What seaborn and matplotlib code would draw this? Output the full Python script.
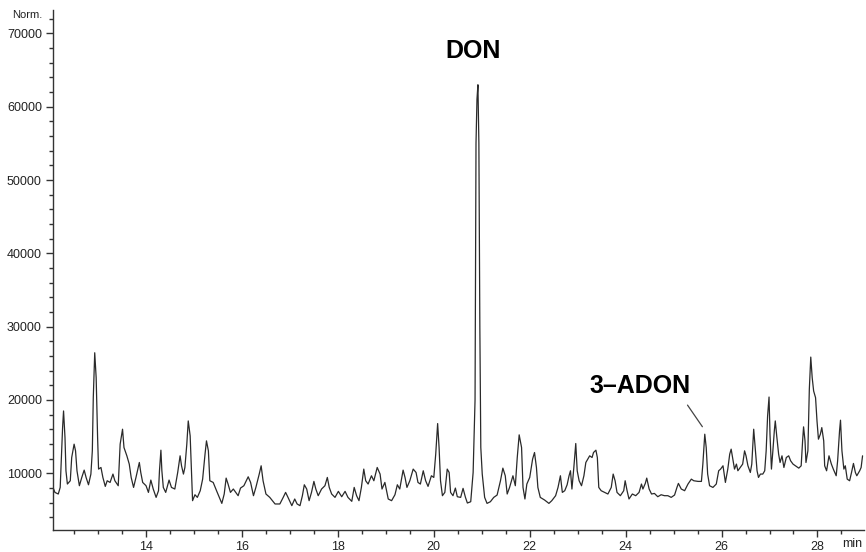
import numpy as np
import pandas as pd
import seaborn as sns
import matplotlib
matplotlib.use("Agg")
import matplotlib.pyplot as plt
from matplotlib.ticker import MultipleLocator, FormatStrFormatter

# ---- data (time in min, intensity in Norm.) ----
time_min = [
    12.06, 12.10, 12.17, 12.21, 12.23, 12.26, 12.28, 12.31, 12.33, 12.36,
    12.42, 12.45, 12.50, 12.53, 12.56, 12.61, 12.66, 12.71, 12.75, 12.80,
    12.85, 12.88, 12.90, 12.93, 12.96, 12.99, 13.01, 13.06, 13.10, 13.15,
    13.19, 13.25, 13.31, 13.35, 13.42, 13.46, 13.51, 13.54, 13.60, 13.65,
    13.69, 13.74, 13.79, 13.86, 13.89, 13.93, 14.00, 14.05, 14.10, 14.15,
    14.21, 14.26, 14.28, 14.31, 14.33, 14.36, 14.41, 14.48, 14.53, 14.60,
    14.66, 14.71, 14.74, 14.78, 14.81, 14.85, 14.88, 14.92, 14.95, 14.97,
    15.02, 15.07, 15.13, 15.18, 15.23, 15.26, 15.30, 15.33, 15.40, 15.47,
    15.58, 15.63, 15.67, 15.71, 15.76, 15.82, 15.87, 15.92, 15.97, 16.04,
    16.13, 16.18, 16.24, 16.29, 16.36, 16.40, 16.44, 16.50, 16.58, 16.69,
    16.79, 16.86, 16.91, 16.96, 17.04, 17.10, 17.15, 17.21, 17.26, 17.30,
    17.35, 17.40, 17.45, 17.50, 17.54, 17.59, 17.66, 17.73, 17.78, 17.82,
    17.87, 17.94, 18.01, 18.08, 18.15, 18.21, 18.29, 18.34, 18.39, 18.44,
    18.49, 18.54, 18.58, 18.63, 18.70, 18.75, 18.82, 18.88, 18.92, 18.98,
    19.05, 19.12, 19.19, 19.24, 19.29, 19.36, 19.40, 19.44, 19.50, 19.57,
    19.63, 19.67, 19.72, 19.78, 19.83, 19.88, 19.95, 20.00, 20.04, 20.08,
    20.11, 20.14, 20.18, 20.23, 20.28, 20.32, 20.35, 20.40, 20.45, 20.49,
    20.56, 20.61, 20.66, 20.70, 20.77, 20.82, 20.86, 20.88, 20.90, 20.92,
    20.94, 20.96, 20.98, 21.01, 21.06, 21.11, 21.18, 21.25, 21.32, 21.39,
    21.44, 21.49, 21.53, 21.58, 21.65, 21.70, 21.74, 21.78, 21.83, 21.86,
    21.90, 21.94, 22.00, 22.06, 22.10, 22.14, 22.17, 22.22, 22.31, 22.40,
    22.46, 22.54, 22.59, 22.64, 22.68, 22.73, 22.78, 22.82, 22.85, 22.88,
    22.92, 22.96, 22.99, 23.03, 23.08, 23.13, 23.17, 23.21, 23.25, 23.30,
    23.33, 23.38, 23.41, 23.44, 23.49, 23.56, 23.63, 23.70, 23.74, 23.78,
    23.82, 23.89, 23.96, 23.99, 24.03, 24.07, 24.14, 24.21, 24.28, 24.33,
    24.36, 24.41, 24.44, 24.49, 24.54, 24.60, 24.67, 24.74, 24.81, 24.88,
    24.95, 25.02, 25.07, 25.10, 25.16, 25.23, 25.30, 25.37, 25.42, 25.51,
    25.58, 25.61, 25.65, 25.68, 25.71, 25.75, 25.82, 25.89, 25.94, 25.98,
    26.03, 26.08, 26.13, 26.17, 26.20, 26.24, 26.27, 26.31, 26.34, 26.39,
    26.44, 26.48, 26.51, 26.55, 26.60, 26.63, 26.65, 26.67, 26.70, 26.74,
    26.77, 26.81, 26.86, 26.90, 26.93, 26.96, 26.99, 27.01, 27.04, 27.07,
    27.10, 27.12, 27.15, 27.19, 27.22, 27.26, 27.30, 27.35, 27.40, 27.44,
    27.49, 27.54, 27.61, 27.66, 27.69, 27.71, 27.74, 27.76, 27.80, 27.83,
    27.86, 27.89, 27.92, 27.96, 27.99, 28.02, 28.06, 28.09, 28.13, 28.15,
    28.19, 28.24, 28.29, 28.33, 28.39, 28.42, 28.46, 28.48, 28.51, 28.55,
    28.58, 28.62, 28.67, 28.71, 28.75, 28.79, 28.82, 28.88, 28.91, 28.94,
]
intensity = [
    8070, 7390, 7170, 8070, 11300, 16230, 18500, 14870, 10340, 8530,
    8980, 12150, 13970, 13060, 10340, 8300, 9430, 10430, 9430, 8430,
    9890, 13060, 20310, 26440, 23030, 14870, 10570, 10790, 9430, 8210,
    8980, 8750, 9890, 8980, 8300, 13970, 16010, 13510, 12380, 11250,
    9430, 8070, 9430, 11470, 10110, 8750, 8300, 7390, 9070, 7850,
    6710, 7620, 10340, 13150, 10340, 8070, 7390, 9070, 8070, 7850,
    10110, 12380, 11020, 9890, 10790, 13970, 17140, 15100, 9890, 6260,
    7070, 6710, 7620, 9200, 12610, 14420, 13060, 8980, 8750, 7620,
    5890, 7170, 9340, 8530, 7390, 7850, 7390, 6940, 7980, 8300,
    9520, 8750, 6940, 8070, 9890, 11020, 8980, 7170, 6710, 5810,
    5810, 6710, 7390, 6710, 5580, 6490, 5810, 5580, 6940, 8430,
    7850, 6260, 7390, 8890, 7850, 6940, 7850, 8300, 9430, 8070,
    7170, 6710, 7530, 6800, 7530, 6710, 6170, 8070, 6940, 6260,
    8070, 10570, 8980, 8530, 9660, 8980, 10790, 9890, 7850, 8750,
    6490, 6260, 7070, 8430, 7850, 10430, 9430, 8070, 8980, 10570,
    10110, 8750, 8530, 10340, 8980, 8210, 9660, 9430, 12610, 16780,
    13510, 8980, 6940, 7390, 10570, 10110, 7390, 6940, 7980, 6800,
    6710, 7940, 6710, 5940, 6120, 10110, 20000, 55000, 61000, 63000,
    55000, 30000, 13510, 9890, 6710, 5890, 6120, 6710, 7030, 8980,
    10700, 9660, 7170, 8070, 9660, 8300, 12150, 15240, 13510, 8070,
    6490, 8530, 9430, 11930, 12830, 10790, 8070, 6710, 6350, 5890,
    6260, 6940, 8070, 9660, 7390, 7620, 8430, 9660, 10340, 7850,
    10790, 14060, 10340, 8980, 8300, 9660, 11470, 11930, 12380, 12150,
    12830, 13150, 12150, 8070, 7620, 7390, 7170, 8070, 9890, 8980,
    7390, 6940, 7620, 8980, 7620, 6490, 7170, 6940, 7390, 8530,
    7850, 8620, 9340, 7850, 7170, 7250, 6800, 7070, 6940, 6940,
    6710, 7030, 8070, 8620, 7850, 7620, 8530, 9200, 8980, 8890,
    8890, 11250, 15330, 13510, 9890, 8300, 8070, 8530, 10340, 10570,
    11020, 8750, 10570, 12610, 13290, 11700, 10570, 11250, 10340, 10790,
    11250, 13060, 12380, 11020, 10110, 11250, 13510, 16010, 13510, 10340,
    9430, 9890, 9890, 10340, 13060, 17820, 20400, 15330, 10570, 13060,
    15780, 17140, 15100, 12610, 11470, 12380, 10790, 12150, 12380, 11700,
    11250, 11020, 10700, 11020, 14420, 16330, 14420, 11470, 13060, 21450,
    25850, 23030, 21220, 20310, 17140, 14650, 15330, 16230, 14420, 11020,
    10340, 12380, 11250, 10570, 9660, 11700, 15780, 17240, 13060, 10570,
    11020, 9200, 8980, 10110, 11340, 10110, 9660, 10340, 10790, 12380,
]

peak_labels = ["DON", "3\u2013ADON"]
peak_label_pos = [(20.81, 67600), (24.29, 21900)]
adon_arrow = [(25.29, 19300), (25.60, 16350)]

x_ticks = [14, 16, 18, 20, 22, 24, 26, 28]
y_ticks = [10000, 20000, 30000, 40000, 50000, 60000, 70000]

df = pd.DataFrame({"time": time_min, "signal": intensity})

sns.set_theme(style="ticks")
plt.rcParams["font.family"] = ["Liberation Sans", "DejaVu Sans"]

fig = plt.figure(figsize=(8.66, 5.52), dpi=100)
ax = fig.add_axes([53 / 866, 22 / 552, (864 - 53) / 866, (530 - 10) / 552])

sns.lineplot(data=df, x="time", y="signal", ax=ax, sort=False, estimator=None,
             color="#2a2a2a", linewidth=0.9)

ax.set_xlim(12.06, 28.97)
ax.set_ylim(2260, 73200)
ax.set_xticks(x_ticks)
ax.set_yticks(y_ticks)
ax.xaxis.set_minor_locator(MultipleLocator(0.5))
ax.yaxis.set_minor_locator(MultipleLocator(2000))
ax.yaxis.set_major_formatter(FormatStrFormatter("%d"))
ax.set_xlabel("")
ax.set_ylabel("")
for s in ["top", "right"]:
    ax.spines[s].set_visible(False)
for s in ["left", "bottom"]:
    ax.spines[s].set_color("#333333")
    ax.spines[s].set_linewidth(1.0)
ax.tick_params(axis="both", which="major", length=5, width=1, color="#333333",
               labelsize=9, labelcolor="#222222", pad=3)
ax.tick_params(axis="both", which="minor", length=3, width=1, color="#333333")

ax.text(*peak_label_pos[0], peak_labels[0], ha="center", va="center",
        fontsize=18, fontweight="bold", color="black")
ax.text(*peak_label_pos[1], peak_labels[1], ha="center", va="center",
        fontsize=18, fontweight="bold", color="black")
ax.plot([adon_arrow[0][0], adon_arrow[1][0]], [adon_arrow[0][1], adon_arrow[1][1]],
        color="#444444", linewidth=0.9)

fig.text(27 / 866, 1 - 15 / 552, "Norm.", ha="center", va="center",
         fontsize=8, color="#222222")
fig.text(852 / 866, 1 - 544 / 552, "min", ha="center", va="center",
         fontsize=9, color="#222222")

fig.savefig("out.png", dpi=100)
